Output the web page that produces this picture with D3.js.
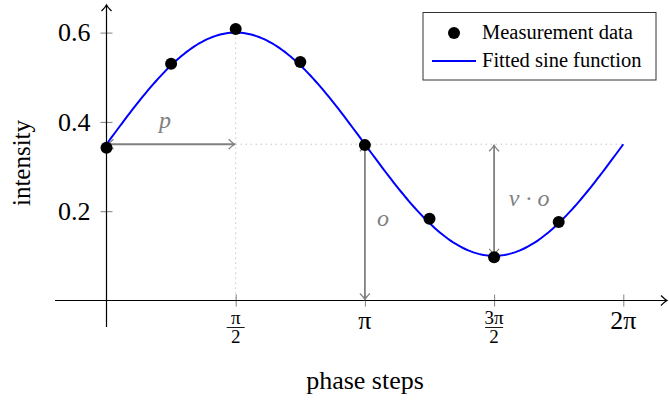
<!DOCTYPE html>
<html>
<head>
<meta charset="utf-8">
<script src="https://cdn.jsdelivr.net/npm/d3@7"></script>
<style>
  body { margin: 0; background: #fff; }
  text { font-family: "Liberation Serif", "Times New Roman", serif; }
</style>
</head>
<body>
<div id="chart"></div>
<script>
// measured points, phase in units of pi
var phaseSteps = [0, 0.25, 0.5, 0.75, 1, 1.25, 1.5, 1.75];
var intensity = [0.342, 0.530, 0.608, 0.534, 0.348, 0.183, 0.097, 0.176];

// fitted sine: offset + amplitude * sin(phase)
var fitOffset = 0.35;
var fitAmplitude = 0.25;

var xTicks = [0.5, 1, 1.5, 2];
var xTickLabels = [["π", "2"], ["π"], ["3π", "2"], ["2π"]];
var yTicks = [0.2, 0.4, 0.6];
var legendLabels = ["Measurement data", "Fitted sine function"];

var W = 669, H = 400;
var gray = "#808080";

var svg = d3.select("#chart").append("svg")
  .attr("width", W).attr("height", H);

var defs = svg.append("defs");
function marker(id, color) {
  defs.append("marker").attr("id", id)
    .attr("viewBox", "-8 -6 10 12").attr("refX", 0).attr("refY", 0)
    .attr("markerWidth", 10).attr("markerHeight", 12)
    .attr("markerUnits", "userSpaceOnUse").attr("orient", "auto-start-reverse")
    .append("path").attr("d", "M-6,-5 Q-2,-1 0,0 Q-2,1 -6,5")
    .attr("fill", "none").attr("stroke", color).attr("stroke-width", 1.3);
}
marker("arrBlack", "#000");
marker("arrGray", gray);

var x = d3.scaleLinear().domain([0, 2 * Math.PI]).range([106.5, 623.3]);
var y = d3.scaleLinear().domain([0, 0.6]).range([300.5, 32.6]);

// dotted helper lines
var pPeak = Math.PI / 2;
svg.append("line")
  .attr("x1", x(pPeak)).attr("x2", x(pPeak))
  .attr("y1", y(fitOffset + fitAmplitude)).attr("y2", y(0))
  .attr("stroke", "#aaa").attr("stroke-width", 1).attr("stroke-dasharray", "1,4");
svg.append("line")
  .attr("x1", x(pPeak)).attr("x2", x(2 * Math.PI))
  .attr("y1", y(fitOffset)).attr("y2", y(fitOffset))
  .attr("stroke", "#aaa").attr("stroke-width", 1).attr("stroke-dasharray", "1,4");

// y axis ticks (cross the axis line)
var yAxis = svg.append("g")
  .attr("transform", "translate(" + (x(0) + 6) + ",0)")
  .call(d3.axisLeft(y).tickValues(yTicks).tickSizeInner(12).tickSizeOuter(0).tickPadding(10)
    .tickFormat(d3.format(".1f")));
yAxis.select(".domain").remove();
yAxis.selectAll("line").attr("stroke", gray);
yAxis.selectAll("text").attr("font-size", 26).attr("fill", "#000")
  .style("font-family", "Liberation Serif, serif");

// x axis ticks
var xAxis = svg.append("g")
  .attr("transform", "translate(0," + (y(0) - 6) + ")")
  .call(d3.axisBottom(x).tickValues(xTicks.map(function (d) { return d * Math.PI; }))
    .tickSizeInner(12).tickSizeOuter(0).tickFormat(""));
xAxis.select(".domain").remove();
xAxis.selectAll("line").attr("stroke", gray);

// x tick labels
xTicks.forEach(function (t, i) {
  var lab = xTickLabels[i], cx = x(t * Math.PI);
  if (lab.length === 2) {
    svg.append("text").attr("x", cx).attr("y", 324).attr("text-anchor", "middle")
      .attr("font-size", 19).text(lab[0]);
    svg.append("line").attr("x1", cx - 9).attr("x2", cx + 9).attr("y1", 327.5).attr("y2", 327.5)
      .attr("stroke", "#000").attr("stroke-width", 0.9);
    svg.append("text").attr("x", cx).attr("y", 343).attr("text-anchor", "middle")
      .attr("font-size", 19).text(lab[1]);
  } else {
    svg.append("text").attr("x", cx).attr("y", 329).attr("text-anchor", "middle")
      .attr("font-size", 26).text(lab[0]);
  }
});

// main axes
svg.append("line").attr("x1", 55).attr("x2", 667).attr("y1", y(0)).attr("y2", y(0))
  .attr("stroke", "#000").attr("stroke-width", 1.2).attr("marker-end", "url(#arrBlack)");
svg.append("line").attr("x1", x(0)).attr("x2", x(0)).attr("y1", 327).attr("y2", 5)
  .attr("stroke", "#000").attr("stroke-width", 1.2).attr("marker-end", "url(#arrBlack)");

// annotation arrows
function arrow(x1, y1, x2, y2) {
  svg.append("line").attr("x1", x1).attr("y1", y1).attr("x2", x2).attr("y2", y2)
    .attr("stroke", gray).attr("stroke-width", 1.8)
    .attr("marker-start", "url(#arrGray)").attr("marker-end", "url(#arrGray)");
}
arrow(x(0) + 1, y(fitOffset), x(pPeak) - 1, y(fitOffset));
arrow(x(Math.PI), y(fitOffset) + 1, x(Math.PI), y(0) - 1);
arrow(x(1.5 * Math.PI), y(fitOffset) + 1, x(1.5 * Math.PI), y(fitOffset - fitAmplitude) - 1);

function note(tx, ty, s) {
  svg.append("text").attr("x", tx).attr("y", ty).attr("text-anchor", "middle")
    .attr("font-size", 24).attr("font-style", "italic").attr("fill", gray).text(s);
}
note((x(0) + x(pPeak)) / 2 - 6, 128, "p");
note(x(Math.PI) + 18, 226, "o");
note(x(1.5 * Math.PI) + 35, 206, "v · o");

// fitted curve
var curve = d3.range(0, 201).map(function (i) {
  var ph = 2 * Math.PI * i / 200;
  return [ph, fitOffset + fitAmplitude * Math.sin(ph)];
});
svg.append("path").datum(curve)
  .attr("d", d3.line().x(function (d) { return x(d[0]); }).y(function (d) { return y(d[1]); }))
  .attr("fill", "none").attr("stroke", "#0000ff").attr("stroke-width", 2);

// measurement dots
svg.selectAll("circle.pt").data(phaseSteps).enter().append("circle")
  .attr("class", "pt")
  .attr("cx", function (d) { return x(d * Math.PI); })
  .attr("cy", function (d, i) { return y(intensity[i]); })
  .attr("r", 6).attr("fill", "#000");

// axis labels
svg.append("text").attr("transform", "translate(30,163) rotate(-90)")
  .attr("text-anchor", "middle").attr("font-size", 25).text("intensity");
svg.append("text").attr("x", 365).attr("y", 389).attr("text-anchor", "middle")
  .attr("font-size", 26).text("phase steps");

// legend
var lg = svg.append("g");
lg.append("rect").attr("x", 423).attr("y", 12.5).attr("width", 233).attr("height", 67.5)
  .attr("fill", "#fff").attr("stroke", "#333").attr("stroke-width", 1);
lg.append("circle").attr("cx", 454).attr("cy", 33).attr("r", 6).attr("fill", "#000");
lg.append("line").attr("x1", 432).attr("x2", 476).attr("y1", 61).attr("y2", 61)
  .attr("stroke", "#0000ff").attr("stroke-width", 2);
lg.selectAll("text.lg").data(legendLabels).enter().append("text")
  .attr("class", "lg")
  .attr("x", 482).attr("y", function (d, i) { return 39 + i * 28; })
  .attr("font-size", 20.5).text(function (d) { return d; });
</script>
</body>
</html>
